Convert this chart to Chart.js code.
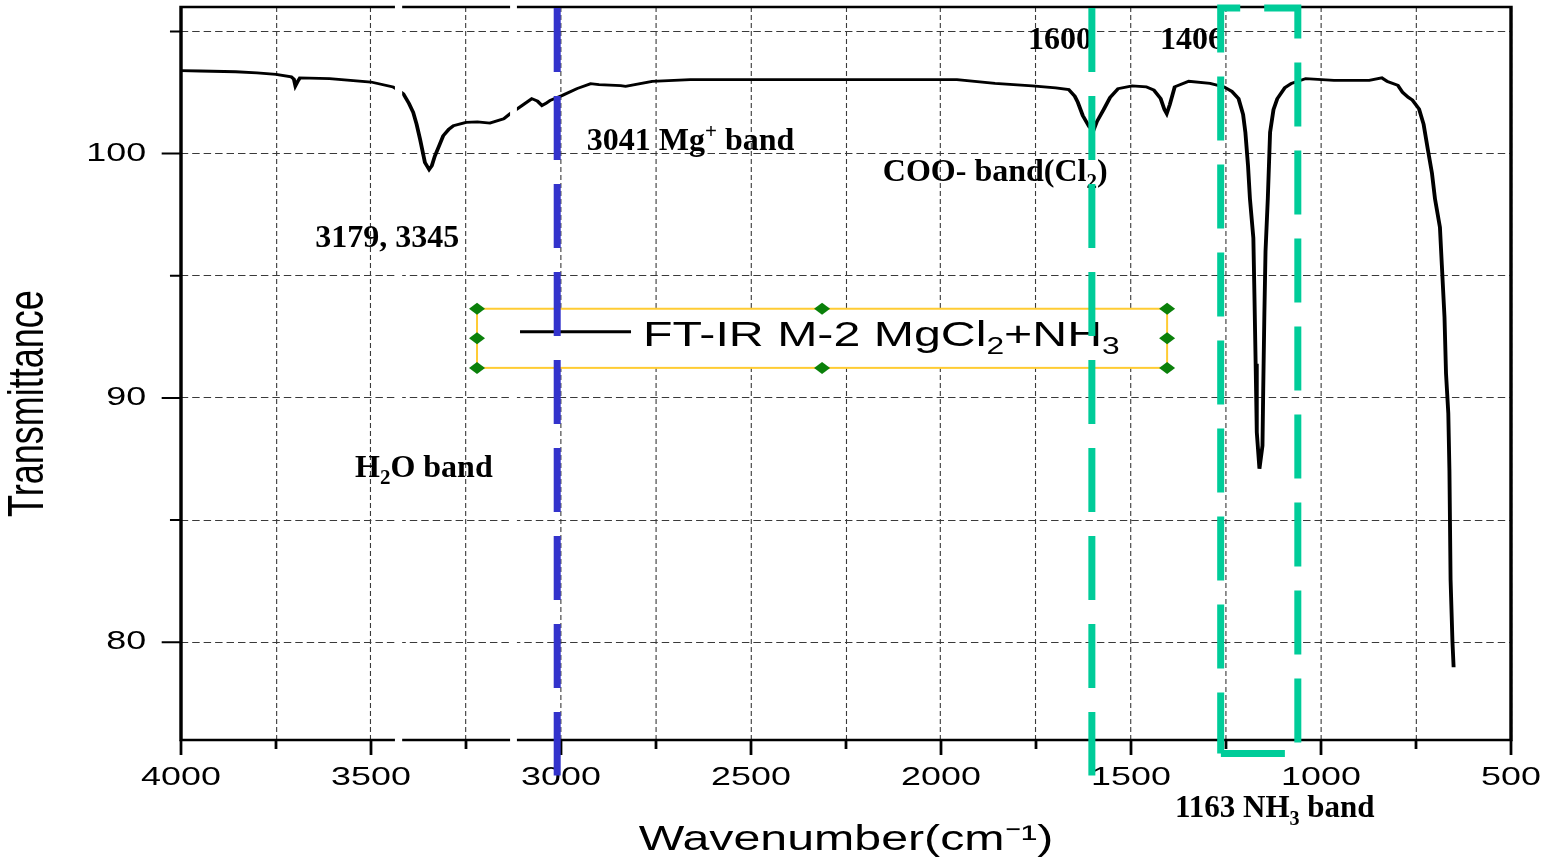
<!DOCTYPE html>
<html>
<head>
<meta charset="utf-8">
<title>FT-IR M-2 MgCl2+NH3</title>
<script src="https://cdn.jsdelivr.net/npm/chart.js@4.4.1/dist/chart.umd.min.js"></script>
<style>
  html, body { margin: 0; padding: 0; background: #fff; overflow: hidden; }
  canvas { display: block; }
</style>
</head>
<body>
<canvas id="ftir" width="1127" height="861"></canvas>
<script>
// spectrum: wavenumber (cm-1) and transmittance
const wavenumber = [
  4000, 3950, 3856, 3800, 3750, 3710, 3703, 3699, 3693, 3687, 3609, 3500, 3442, 3430, 3415, 3400,
  3389, 3380, 3371, 3358, 3347, 3340, 3332, 3320, 3310, 3295, 3283, 3250, 3220, 3187, 3151, 3134,
  3109, 3077, 3062, 3050, 3040, 3028, 2997, 2958, 2922, 2900, 2843, 2830, 2760, 2660, 2400, 2200,
  1958, 1858, 1760, 1698, 1664, 1648, 1640, 1627, 1610, 1599, 1590, 1571, 1555, 1534, 1497, 1460,
  1440, 1422, 1412, 1406, 1398, 1385, 1348, 1292, 1255, 1235, 1217, 1205, 1199, 1192, 1187, 1178,
  1175, 1172, 1169, 1162, 1154, 1152, 1149, 1146, 1140, 1134, 1125, 1115, 1095, 1078, 1040, 966,
  873, 840, 825, 798, 785, 770, 760, 742, 730, 719, 708, 700, 687, 682, 675, 671,
  665, 662, 659, 654, 651
];
const transmittance = [
  103.40, 103.38, 103.35, 103.30, 103.24, 103.14, 103.05, 102.77, 102.95, 103.10, 103.07, 102.93, 102.73, 102.62, 102.45, 102.05,
  101.69, 101.20, 100.60, 99.63, 99.35, 99.50, 99.90, 100.35, 100.73, 101.00, 101.14, 101.28, 101.30, 101.25, 101.42, 101.63,
  101.90, 102.25, 102.15, 101.97, 102.05, 102.18, 102.38, 102.66, 102.86, 102.82, 102.78, 102.75, 102.96, 103.03, 103.03, 103.03,
  103.03, 102.87, 102.77, 102.69, 102.62, 102.35, 102.10, 101.56, 101.10, 100.94, 101.30, 101.83, 102.30, 102.66, 102.77, 102.73,
  102.60, 102.25, 101.80, 101.63, 102.00, 102.73, 102.96, 102.87, 102.73, 102.55, 102.25, 101.60, 100.87, 99.50, 98.15, 96.54,
  94.05, 91.40, 88.60, 87.10, 88.05, 90.40, 93.46, 96.00, 98.15, 100.87, 101.80, 102.25, 102.70, 102.87, 103.07, 103.00,
  103.00, 103.10, 102.95, 102.80, 102.50, 102.30, 102.20, 101.83, 101.20, 100.18, 99.20, 98.15, 96.98, 95.44, 93.30, 91.00,
  89.37, 87.00, 82.56, 80.00, 78.98
];

const xMajorTicks = [4000, 3500, 3000, 2500, 2000, 1500, 1000, 500];
const xMinorTicks = [3750, 3250, 2750, 2250, 1750, 1250, 750];
const yMajorTicks = [80, 90, 100];
const yMinorTicks = [85, 95, 105];

const seriesName = 'FT-IR M-2 MgCl2+NH3';
const xTitle = 'Wavenumber(cm\u207B\u00B9)';
const yTitle = 'Transmittance';

// band markers drawn over the plot (cm-1)
const blueMarkWn = 3010;
const greenMarkWn = 1603;
const nh3BoxWn = [1264, 1061];

// notes: anchor = left end of text baseline, in (cm-1, transmittance)
const notes = [
  { wn: 3647, t: 96.19, size: 32, parts: [['3179, 3345']] },
  { wn: 2932, t: 100.16, size: 32, parts: [['3041 Mg'], ['+', 'sup'], [' band']] },
  { wn: 3542, t: 86.76, size: 32, parts: [['H'], ['2', 'sub'], ['O band']] },
  { wn: 1771, t: 104.30, size: 32, parts: [['1600']] },
  { wn: 1424, t: 104.30, size: 32, parts: [['1406']] },
  { wn: 2153, t: 98.89, size: 32, parts: [['COO- band(Cl'], ['2', 'sub'], [')']] },
  { wn: 1384, t: 72.83, size: 31, parts: [['1163 NH'], ['3', 'sub'], [' band']] }
];

// white cuts that run through the original frame
const cutBands = [[3437, 3418], [3134, 3116]];

const SANS = '"Liberation Sans", Arial, sans-serif';
const SERIF = '"Liberation Serif", "Times New Roman", serif';

// the original figure is stretched sideways, text included:
// draw on a narrower logical canvas, then widen it with the context transform
const SCREEN_W = 1555, SCREEN_H = 861;
const canvas = document.getElementById('ftir');
const LOGICAL_W = canvas.width;
const K = SCREEN_W / LOGICAL_W;
const PLOT = { left: 181, right: 1511, top: 7, bottom: 740 };

function drawParts(ctx, parts, x, y, size, weight, family) {
  let cx = x;
  for (const [txt, mode] of parts) {
    const s = mode ? Math.round(size * 0.66) : size;
    ctx.font = `${weight} ${s}px ${family}`;
    const dy = mode === 'sub' ? size * 0.23 : mode === 'sup' ? -size * 0.36 : 0;
    ctx.fillText(txt, cx, y + dy);
    cx += ctx.measureText(txt).width;
  }
}

const frameAndTicks = {
  id: 'frameAndTicks',
  afterDatasetsDraw(chart) {
    const { ctx, chartArea: a, scales: { x, y } } = chart;
    ctx.save();
    ctx.strokeStyle = '#000';
    ctx.lineWidth = 2;
    ctx.beginPath();
    xMajorTicks.forEach(v => { const p = x.getPixelForValue(v); ctx.moveTo(p, a.bottom); ctx.lineTo(p, a.bottom + 15); });
    xMinorTicks.forEach(v => { const p = x.getPixelForValue(v); ctx.moveTo(p, a.bottom); ctx.lineTo(p, a.bottom + 9); });
    yMajorTicks.forEach(v => { const p = y.getPixelForValue(v); ctx.moveTo(a.left - 14, p); ctx.lineTo(a.left, p); });
    yMinorTicks.forEach(v => { const p = y.getPixelForValue(v); ctx.moveTo(a.left - 8, p); ctx.lineTo(a.left, p); });
    ctx.stroke();
    ctx.lineWidth = 2.5;
    ctx.strokeRect(a.left, a.top, a.right - a.left, a.bottom - a.top);
    ctx.fillStyle = '#fff';
    for (const [w1, w2] of cutBands) {
      const p1 = x.getPixelForValue(w1), p2 = x.getPixelForValue(w2);
      ctx.fillRect(p1, a.top - 4, p2 - p1, a.bottom - a.top + 6);
    }
    ctx.restore();
  }
};

const overlays = {
  id: 'overlays',
  afterDraw(chart) {
    const { ctx, scales: { x, y } } = chart;
    const k = ctx.getTransform().a;
    const sx = v => x.getPixelForValue(v) * k;
    const sy = v => y.getPixelForValue(v);
    ctx.save();
    ctx.setTransform(1, 0, 0, 1, 0, 0);

    // legend box (selected in the original, so yellow frame + handles)
    const bx1 = sx(3221), bx2 = sx(1405), by1 = sy(93.65), by2 = sy(91.23);
    const mx = (bx1 + bx2) / 2, my = (by1 + by2) / 2;
    ctx.fillStyle = '#fff';
    ctx.fillRect(bx1, by1, bx2 - bx1, by2 - by1);
    ctx.strokeStyle = '#FFCC33';
    ctx.lineWidth = 2;
    ctx.strokeRect(bx1, by1, bx2 - bx1, by2 - by1);
    ctx.fillStyle = '#0A800A';
    [[bx1, by1], [bx1, my], [bx1, by2], [mx, by1], [mx, by2], [bx2, by1], [bx2, my], [bx2, by2]].forEach(([hx, hy]) => {
      ctx.beginPath();
      ctx.moveTo(hx - 8, hy); ctx.lineTo(hx, hy - 6); ctx.lineTo(hx + 8, hy); ctx.lineTo(hx, hy + 6);
      ctx.closePath();
      ctx.fill();
    });
    ctx.setTransform(k, 0, 0, 1, 0, 0);
    ctx.strokeStyle = '#000';
    ctx.lineWidth = 3;
    ctx.beginPath();
    ctx.moveTo((bx1 + 43) / k, by1 + 23);
    ctx.lineTo((bx1 + 154) / k, by1 + 23);
    ctx.stroke();
    ctx.fillStyle = '#000';
    ctx.textBaseline = 'alphabetic';
    drawParts(ctx, [['FT-IR M-2 MgCl'], ['2', 'sub'], ['+NH'], ['3', 'sub']],
      (bx1 + 166) / k, by1 + 37, 35, 'normal', SANS);
    ctx.setTransform(1, 0, 0, 1, 0, 0);

    // band notes
    ctx.fillStyle = '#000';
    notes.forEach(n => drawParts(ctx, n.parts, sx(n.wn), sy(n.t), n.size, 'bold', SERIF));

    // dashed band markers
    const top = sy(105.96), lineEnd = sy(74.55), boxEnd = sy(75.45);
    ctx.lineWidth = 7;
    ctx.lineCap = 'butt';
    ctx.setLineDash([64, 24]);
    ctx.strokeStyle = '#3333CC';
    ctx.beginPath();
    ctx.moveTo(sx(blueMarkWn), top); ctx.lineTo(sx(blueMarkWn), lineEnd);
    ctx.stroke();
    ctx.strokeStyle = '#00CC99';
    ctx.beginPath();
    ctx.moveTo(sx(greenMarkWn), top); ctx.lineTo(sx(greenMarkWn), lineEnd);
    ctx.stroke();
    const rx1 = sx(nh3BoxWn[0]), rx2 = sx(nh3BoxWn[1]);
    ctx.lineDashOffset = 3;
    ctx.beginPath();
    ctx.moveTo(rx1, boxEnd); ctx.lineTo(rx1, top); ctx.lineTo(rx2, top); ctx.lineTo(rx2, boxEnd);
    ctx.closePath();
    ctx.stroke();
    ctx.restore();
  }
};

const chart = new Chart(canvas, {
  type: 'line',
  data: {
    datasets: [{
      label: seriesName,
      data: wavenumber.map((w, i) => ({ x: w, y: transmittance[i] })),
      borderColor: '#000',
      borderWidth: 2.8,
      pointRadius: 0,
      tension: 0,
      fill: false
    }]
  },
  options: {
    responsive: false,
    animation: false,
    devicePixelRatio: 1,
    layout: {
      autoPadding: false,
      padding: { left: 0, top: PLOT.top, right: LOGICAL_W - PLOT.right / K, bottom: 0 }
    },
    plugins: { legend: { display: false }, tooltip: { enabled: false } },
    scales: {
      x: {
        type: 'linear',
        reverse: true,
        min: 500,
        max: 4000,
        afterBuildTicks: s => { s.ticks = [...xMajorTicks, ...xMinorTicks].sort((a, b) => a - b).map(v => ({ value: v })); },
        afterFit: s => {
          s.height = SCREEN_H - PLOT.bottom;
          s.paddingLeft = 0;
          s.paddingRight = 0;
        },
        ticks: {
          autoSkip: false,
          maxRotation: 0,
          padding: 7,
          color: '#000',
          font: { family: SANS, size: 26 },
          callback: v => xMajorTicks.includes(v) ? String(v) : ''
        },
        grid: { color: '#3a3a3a', lineWidth: 0.8, tickLength: 15, tickColor: 'transparent' },
        border: { display: false, dash: [5, 3] },
        title: {
          display: true,
          text: xTitle,
          color: '#000',
          font: { family: SANS, size: 35 },
          padding: { top: 0, bottom: 0 }
        }
      },
      y: {
        min: 76,
        max: 106,
        afterBuildTicks: s => { s.ticks = [...yMajorTicks, ...yMinorTicks].sort((a, b) => a - b).map(v => ({ value: v })); },
        afterFit: s => {
          s.width = PLOT.left / K;
          s.paddingTop = 0;
          s.paddingBottom = 0;
        },
        ticks: {
          autoSkip: false,
          padding: 11.3,
          color: '#000',
          font: { family: SANS, size: 26 },
          callback: v => yMajorTicks.includes(v) ? String(v) : ''
        },
        grid: { color: '#3a3a3a', lineWidth: 1, tickLength: 14, tickColor: 'transparent' },
        border: { display: false, dash: [5.4, 2.9] },
        title: {
          display: true,
          text: yTitle + '      ',
          color: '#000',
          font: { family: SANS, size: 36 },
          padding: { top: 0, bottom: 0 }
        }
      }
    }
  },
  plugins: [frameAndTicks, overlays]
});

// widen the finished drawing to the screen size
canvas.width = SCREEN_W;
canvas.height = SCREEN_H;
canvas.style.width = SCREEN_W + 'px';
canvas.style.height = SCREEN_H + 'px';
chart.ctx.setTransform(K, 0, 0, 1, 0, 0);
chart.draw();
</script>
</body>
</html>
